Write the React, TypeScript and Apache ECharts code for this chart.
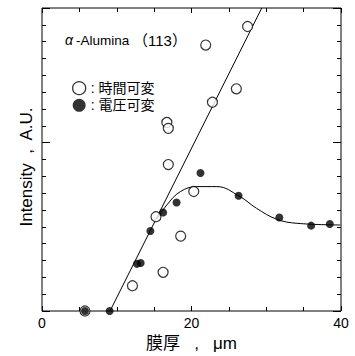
import React, { useEffect, useRef } from "react";
import * as echarts from "echarts";

const xTickLabels = ["0", "20", "40"];

// 時間可変 (open circles)
const timeX = [5.75, 12.1, 16.2, 15.25, 18.55, 20.3, 16.9, 16.7, 16.9, 21.9, 22.8, 26.0, 27.5];
const timeY = [0, 1.5, 2.3, 5.6, 4.45, 7.1, 8.7, 11.2, 10.85, 15.8, 12.4, 13.2, 16.9];

// 電圧可変 (filled circles)
const voltX = [5.75, 9.05, 12.7, 13.2, 14.5, 16.2, 18.0, 21.2, 26.3, 31.75, 36.0, 38.5];
const voltY = [0, 0, 2.8, 2.85, 4.75, 5.85, 6.45, 8.2, 6.85, 5.55, 5.07, 5.17];

// straight fit line
const lineX = [9.1, 29.4];
const lineY = [0, 18];

// smooth curve
const curveX = [15.4, 16.7, 18.5, 20.7, 23.4, 26.4, 28.7, 31.4, 34.1, 39.9];
const curveY = [5.47, 6.3, 7.09, 7.39, 7.39, 6.82, 6.1, 5.45, 5.21, 5.11];

const seriesNames = ["時間可変", "電圧可変"];

const zip = (xs: number[], ys: number[]) => xs.map((x, i) => [x, ys[i]]);

const FONT = "'Liberation Sans', Arial, 'Noto Sans CJK JP', sans-serif";

export default function App() {
  const ref = useRef<HTMLDivElement>(null);
  useEffect(() => {
    if (!ref.current) return;
    const chart = echarts.init(ref.current, null, { renderer: "svg" });
    const black = "#000";
    const mkX = (pos: string) => ({
      type: "value" as const,
      position: pos,
      min: 0,
      max: 40,
      interval: 20,
      axisLine: { show: false, onZero: false },
      axisTick: { show: true, inside: true, length: 5, lineStyle: { color: black, width: 1 } },
      minorTick: { show: true, splitNumber: 4, length: 4, lineStyle: { color: black, width: 1 } },
      splitLine: { show: false },
    });
    const mkY = (pos: string, interval: number, len: number) => ({
      type: "value" as const,
      position: pos,
      min: 0,
      max: 18,
      interval,
      axisLine: { show: false, onZero: false },
      axisTick: { show: true, inside: true, length: len, lineStyle: { color: black, width: 1 } },
      axisLabel: { show: false },
      splitLine: { show: false },
    });
    chart.setOption({
      animation: false,
      backgroundColor: "#fff",
      grid: {
        show: true,
        left: 42,
        right: 14,
        top: 8,
        bottom: 45,
        containLabel: false,
        outerBoundsMode: "none",
        borderColor: black,
        borderWidth: 1,
        backgroundColor: "transparent",
      },
      xAxis: [
        {
          ...mkX("bottom"),
          axisLabel: {
            show: true,
            color: black,
            fontSize: 14,
            fontFamily: FONT,
            margin: 5,
            formatter: (v: number) => xTickLabels[Math.round(v / 20)] ?? String(v),
          },
          name: "膜厚   ,   μm",
          nameLocation: "middle",
          nameGap: 24,
          nameTextStyle: { color: black, fontSize: 17, fontFamily: FONT },
        },
        { ...mkX("top"), axisLabel: { show: false } },
      ],
      yAxis: [mkY("left", 1, 4), mkY("right", 1, 4), mkY("left", 10, 8), mkY("right", 10, 8)],
      legend: {
        show: true,
        orient: "vertical",
        left: 67,
        top: 76,
        itemWidth: 13,
        itemHeight: 13,
        itemGap: 3,
        icon: "circle",
        data: [
          { name: seriesNames[0], itemStyle: { color: "#fff", borderColor: black, borderWidth: 1.3 } },
          { name: seriesNames[1], itemStyle: { color: black, borderColor: black, borderWidth: 0 } },
        ],
        formatter: (n: string) => ": " + n,
        textStyle: { color: black, fontSize: 14, fontFamily: FONT },
      },
      graphic: [
        {
          type: "text",
          x: 65,
          y: 40,
          style: {
            text: "α",
            fill: black,
            fontSize: 14,
            fontStyle: "italic",
            fontFamily: FONT,
            textAlign: "left",
            textVerticalAlign: "middle",
          },
        },
        {
          type: "text",
          x: 76,
          y: 40,
          style: {
            text: "-Alumina",
            fill: black,
            fontSize: 13.5,
            fontFamily: FONT,
            textAlign: "left",
            textVerticalAlign: "middle",
          },
        },
        {
          type: "text",
          x: 133,
          y: 40,
          style: {
            text: "（113）",
            fill: black,
            fontSize: 15,
            fontFamily: FONT,
            textAlign: "left",
            textVerticalAlign: "middle",
          },
        },
        {
          type: "text",
          x: 26,
          y: 167,
          rotation: Math.PI / 2,
          style: {
            text: "Intensity  ,  A.U.",
            fill: black,
            fontSize: 17,
            fontFamily: FONT,
            textAlign: "center",
            textVerticalAlign: "middle",
          },
        },
      ],
      series: [
        {
          type: "line",
          data: zip(lineX, lineY),
          symbol: "none",
          lineStyle: { color: black, width: 1 },
          silent: true,
          z: 1,
        },
        {
          type: "line",
          data: zip(curveX, curveY),
          symbol: "none",
          smooth: 0.4,
          lineStyle: { color: black, width: 1 },
          silent: true,
          z: 1,
        },
        {
          name: seriesNames[0],
          type: "scatter",
          data: zip(timeX, timeY),
          symbol: "circle",
          symbolSize: 10,
          itemStyle: { color: "#fff", borderColor: black, borderWidth: 1.2 },
          z: 3,
        },
        {
          name: seriesNames[1],
          type: "scatter",
          data: zip(voltX, voltY),
          symbol: "circle",
          symbolSize: 8,
          itemStyle: { color: black, borderColor: black, borderWidth: 0 },
          z: 4,
        },
      ],
    });
    return () => chart.dispose();
  }, []);
  return <div ref={ref} style={{ width: 355, height: 356, position: "absolute", left: 0, top: 0 }} />;
}
